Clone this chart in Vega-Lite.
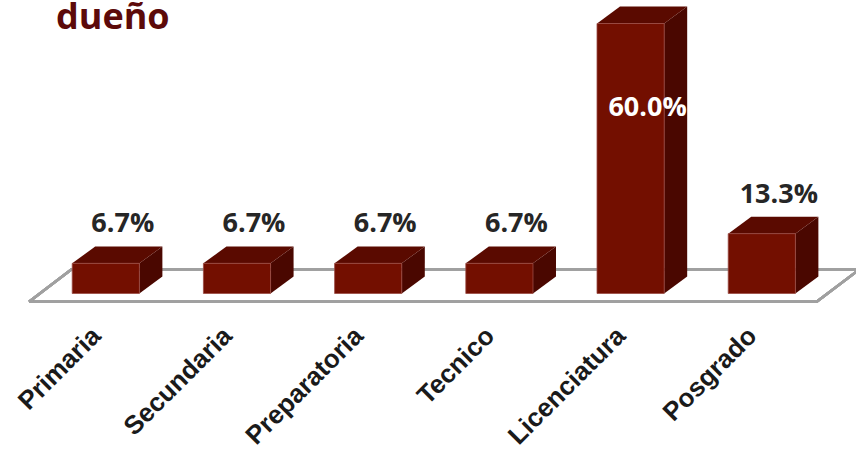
{
  "$schema": "https://vega.github.io/schema/vega-lite/v6.json",
  "width": 856,
  "height": 456,
  "autosize": {"type": "none"},
  "padding": 0,
  "background": "white",
  "config": {"view": {"stroke": null}},
  "data": {"values": [
    {"cat": "Primaria", "value": 6.7},
    {"cat": "Secundaria", "value": 6.7},
    {"cat": "Preparatoria", "value": 6.7},
    {"cat": "Tecnico", "value": 6.7},
    {"cat": "Licenciatura", "value": 60.0},
    {"cat": "Posgrado", "value": 13.3}
  ]},
  "transform": [
    {"window": [{"op": "row_number", "as": "rn"}]},
    {"calculate": "datum.rn - 1", "as": "i"},
    {"calculate": "format(datum.value, '.1f') + '%'", "as": "label"}
  ],
  "layer": [
    {
      "mark": {"type": "rule", "color": "#a0a0a0", "strokeWidth": 2.5},
      "encoding": {
        "x": {"datum": -0.585, "type": "quantitative", "scale": {"domain": [-0.8064, 5.718], "nice": false, "zero": false}, "axis": null},
        "x2": {"datum": 5.418},
        "y": {"datum": -1.82, "type": "quantitative", "scale": {"domain": [-36.11, 65.22], "nice": false, "zero": false}, "axis": null},
        "y2": {"datum": -1.82}
      }
    },
    {
      "mark": {"type": "rule", "color": "#a0a0a0", "strokeWidth": 2.5},
      "encoding": {
        "x": {"datum": -0.26, "type": "quantitative", "scale": {"domain": [-0.8064, 5.718], "nice": false, "zero": false}, "axis": null},
        "x2": {"datum": 5.746},
        "y": {"datum": 5.38, "type": "quantitative", "scale": {"domain": [-36.11, 65.22], "nice": false, "zero": false}, "axis": null},
        "y2": {"datum": 5.38}
      }
    },
    {
      "mark": {"type": "rule", "color": "#a0a0a0", "strokeWidth": 2.5},
      "encoding": {
        "x": {"datum": -0.585, "type": "quantitative", "scale": {"domain": [-0.8064, 5.718], "nice": false, "zero": false}, "axis": null},
        "x2": {"datum": -0.26},
        "y": {"datum": -1.82, "type": "quantitative", "scale": {"domain": [-36.11, 65.22], "nice": false, "zero": false}, "axis": null},
        "y2": {"datum": 5.38}
      }
    },
    {
      "mark": {"type": "rule", "color": "#a0a0a0", "strokeWidth": 2.5},
      "encoding": {
        "x": {"datum": 5.418, "type": "quantitative", "scale": {"domain": [-0.8064, 5.718], "nice": false, "zero": false}, "axis": null},
        "x2": {"datum": 5.746},
        "y": {"datum": -1.82, "type": "quantitative", "scale": {"domain": [-36.11, 65.22], "nice": false, "zero": false}, "axis": null},
        "y2": {"datum": 5.38}
      }
    },
    {
      "transform": [
        {"calculate": "datum.i + 0.256", "as": "sa"},
        {"calculate": "datum.i + 0.256 + 0.1753", "as": "sb"},
        {"fold": ["sa", "sb"], "as": ["k", "sx"]},
        {"calculate": "datum.k == 'sa' ? 0 : 3.75", "as": "sy0"},
        {"calculate": "datum.value + datum.sy0", "as": "sy1"}
      ],
      "mark": {"type": "area", "color": "#4a0700", "orient": "vertical"},
      "encoding": {
        "x": {"field": "sx", "type": "quantitative", "scale": {"domain": [-0.8064, 5.718], "nice": false, "zero": false}, "axis": null},
        "y": {"field": "sy1", "type": "quantitative", "scale": {"domain": [-36.11, 65.22], "nice": false, "zero": false}, "axis": null},
        "y2": {"field": "sy0"},
        "detail": {"field": "cat"}
      }
    },
    {
      "transform": [
        {"calculate": "datum.value", "as": "ta"},
        {"calculate": "datum.value + 3.75", "as": "tb"},
        {"fold": ["ta", "tb"], "as": ["k", "ty"]},
        {"calculate": "datum.i - 0.256 + (datum.k == 'tb' ? 0.1753 : 0)", "as": "tx0"},
        {"calculate": "datum.tx0 + 0.512", "as": "tx1"}
      ],
      "mark": {"type": "area", "color": "#5a0a00", "orient": "horizontal"},
      "encoding": {
        "y": {"field": "ty", "type": "quantitative", "scale": {"domain": [-36.11, 65.22], "nice": false, "zero": false}, "axis": null},
        "x": {"field": "tx0", "type": "quantitative", "scale": {"domain": [-0.8064, 5.718], "nice": false, "zero": false}, "axis": null},
        "x2": {"field": "tx1"},
        "detail": {"field": "cat"}
      }
    },
    {
      "transform": [
        {"calculate": "datum.i - 0.256", "as": "x0"},
        {"calculate": "datum.i + 0.256", "as": "x1"}
      ],
      "mark": {"type": "rect", "color": "#730f00", "stroke": "#9a4a42", "strokeWidth": 0.8},
      "encoding": {
        "x": {"field": "x0", "type": "quantitative", "scale": {"domain": [-0.8064, 5.718], "nice": false, "zero": false}, "axis": null},
        "x2": {"field": "x1"},
        "y": {"field": "value", "type": "quantitative", "scale": {"domain": [-36.11, 65.22], "nice": false, "zero": false}, "axis": null},
        "y2": {"datum": 0}
      }
    },
    {
      "transform": [{"filter": "datum.value < 50"}],
      "mark": {"type": "text", "font": "Open Sans", "fontWeight": "bold", "fontSize": 27, "color": "#262626", "align": "center", "baseline": "alphabetic", "dx": 17, "dy": -31},
      "encoding": {
        "x": {"field": "i", "type": "quantitative", "scale": {"domain": [-0.8064, 5.718], "nice": false, "zero": false}, "axis": null},
        "y": {"field": "value", "type": "quantitative", "scale": {"domain": [-36.11, 65.22], "nice": false, "zero": false}, "axis": null},
        "text": {"field": "label", "type": "nominal"}
      }
    },
    {
      "transform": [{"filter": "datum.value >= 50"}],
      "mark": {"type": "text", "font": "Open Sans", "fontWeight": "bold", "fontSize": 27, "color": "#ffffff", "align": "center", "baseline": "alphabetic", "dx": 17, "dy": 93},
      "encoding": {
        "x": {"field": "i", "type": "quantitative", "scale": {"domain": [-0.8064, 5.718], "nice": false, "zero": false}, "axis": null},
        "y": {"field": "value", "type": "quantitative", "scale": {"domain": [-36.11, 65.22], "nice": false, "zero": false}, "axis": null},
        "text": {"field": "label", "type": "nominal"}
      }
    },
    {
      "transform": [{"calculate": "datum.i - 0.07", "as": "lx"}],
      "mark": {"type": "text", "font": "Liberation Sans", "fontWeight": "bold", "fontSize": 26, "color": "#1a1a1a", "align": "right", "baseline": "middle", "angle": 315},
      "encoding": {
        "x": {"field": "lx", "type": "quantitative", "scale": {"domain": [-0.8064, 5.718], "nice": false, "zero": false}, "axis": null},
        "y": {"datum": -8.55, "type": "quantitative", "scale": {"domain": [-36.11, 65.22], "nice": false, "zero": false}, "axis": null},
        "text": {"field": "cat", "type": "nominal"}
      }
    },
    {
      "data": {"values": [{"title": "dueño"}]},
      "mark": {"type": "text", "font": "Open Sans", "fontWeight": "bold", "fontSize": 36, "color": "#5c0a0a", "align": "left", "baseline": "top"},
      "encoding": {
        "x": {"datum": -0.3796, "type": "quantitative", "scale": {"domain": [-0.8064, 5.718], "nice": false, "zero": false}, "axis": null},
        "y": {"datum": 65.0, "type": "quantitative", "scale": {"domain": [-36.11, 65.22], "nice": false, "zero": false}, "axis": null},
        "text": {"field": "title", "type": "nominal"}
      }
    }
  ]
}
